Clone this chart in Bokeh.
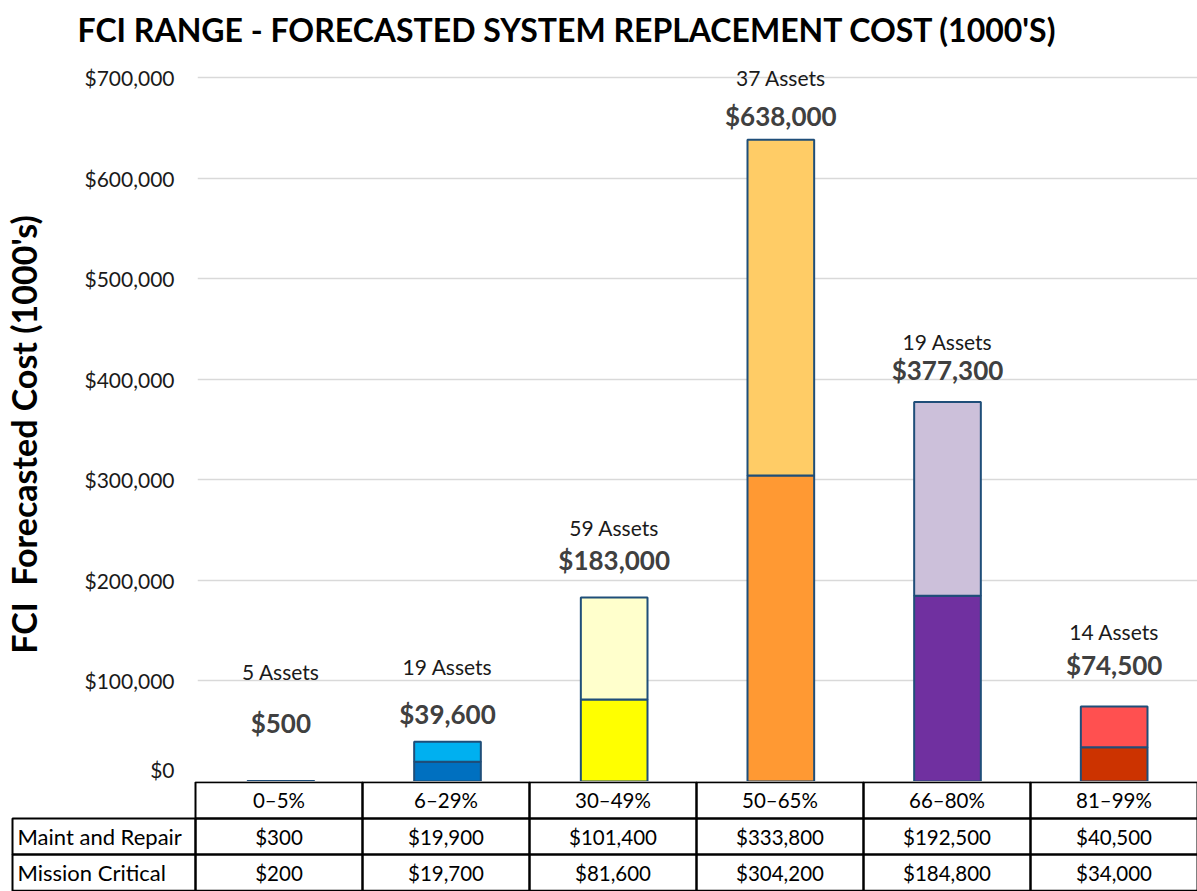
from bokeh.plotting import figure
from bokeh.models import ColumnDataSource, FactorRange, Range1d, FixedTicker, NumeralTickFormatter
from bokeh.layouts import column
from bokeh.embed import file_html
from bokeh.resources import INLINE
from bokeh.core.properties import value

# ---------------- data ----------------
categories = ["0\u20135%", "6\u201329%", "30\u201349%", "50\u201365%", "66\u201380%", "81\u201399%"]
mission_critical = [200, 19700, 81600, 304200, 184800, 34000]
maint_repair = [300, 19900, 101400, 333800, 192500, 40500]
asset_counts = [5, 19, 59, 37, 19, 14]
y_ticks = [0, 100000, 200000, 300000, 400000, 500000, 600000, 700000]
row_names = ["Maint and Repair", "Mission Critical"]

# ---------------- style ----------------
mc_colors = ["#0070C0", "#0070C0", "#FFFF00", "#FF9933", "#7030A0", "#CC3300"]
mr_colors = ["#00B0F0", "#00B0F0", "#FFFFCC", "#FFCC66", "#CCC0DA", "#FF5050"]
value_gap = [-58, -28, -37, -24, -32, -42]     # px above bar top (label layout)
assets_gap = [-109, -75, -70, -62, -61, -75]
FONT = "Lato"

totals = [a + b for a, b in zip(mission_critical, maint_repair)]
src = ColumnDataSource(dict(
    cat=categories, mc=mission_critical, total=totals,
    mc_color=mc_colors, mr_color=mr_colors,
    vlabel=["${:,}".format(t) for t in totals],
    alabel=["{} Assets".format(n) for n in asset_counts],
    vgap=value_gap, agap=assets_gap,
))

W = 1197
FRAME_LEFT = 195
TOP = 54
p = figure(x_range=FactorRange(*categories), y_range=Range1d(0, (781 - TOP) / 704 * 700000),
           width=W, height=781, output_backend="svg", toolbar_location=None,
           min_border_left=FRAME_LEFT, min_border_right=0, min_border_top=TOP, min_border_bottom=0)
p.frame_align = False
p.title.text = "FCI RANGE - FORECASTED SYSTEM REPLACEMENT COST (1000'S)"
p.title.text_font = FONT
p.title.text_font_size = "32px"
p.title.text_font_style = "bold"
p.title.align = "left"
p.title.offset = -120
p.title.standoff = 12
p.title.text_color = "#000000"

p.xaxis.visible = False
p.xgrid.visible = False
p.outline_line_color = None
p.ygrid.ticker = FixedTicker(ticks=y_ticks)
p.ygrid.grid_line_color = "#d9d9d9"
p.ygrid.grid_line_width = 1.5
p.yaxis.ticker = FixedTicker(ticks=y_ticks)
p.yaxis.formatter = NumeralTickFormatter(format="$0,0")
p.yaxis.axis_line_color = None
p.yaxis.major_tick_line_color = None
p.yaxis.minor_tick_line_color = None
p.yaxis.major_label_standoff = 17
p.yaxis.major_label_text_font = FONT
p.yaxis.major_label_text_font_size = "21px"
p.yaxis.major_label_text_color = "#1a1a1a"
p.yaxis.axis_label = "FCI\u00a0\u00a0Forecasted Cost (1000's)\u00a0\u00a0\u00a0\u00a0"
p.yaxis.axis_label_text_font = FONT
p.yaxis.axis_label_text_font_size = "34px"
p.yaxis.axis_label_text_font_style = "bold"
p.yaxis.axis_label_text_color = "#000000"
p.yaxis.axis_label_standoff = 37

p.vbar(x="cat", bottom=0, top="mc", width=0.40, source=src,
       fill_color="mc_color", line_color="#1F4E79", line_width=2)
p.vbar(x="cat", bottom="mc", top="total", width=0.40, source=src,
       fill_color="mr_color", line_color="#1F4E79", line_width=2)

p.text(x="cat", y="total", text="vlabel", y_offset="vgap", source=src,
       text_align="center", text_baseline="middle", text_font=value(FONT),
       text_font_size="26px", text_font_style="bold", text_color="#404040")
p.text(x="cat", y="total", text="alabel", y_offset="agap", source=src,
       text_align="center", text_baseline="middle", text_font=value(FONT),
       text_font_size="21px", text_color="#1a1a1a")

# ---------------- data table ----------------
n = len(categories)
unit = (W - FRAME_LEFT) / n
LEFT = -FRAME_LEFT / unit
t = figure(x_range=Range1d(LEFT, n), y_range=Range1d(-0.02, 3.02),
           width=W, height=110, output_backend="svg", toolbar_location=None,
           min_border_left=0, min_border_right=0, min_border_top=0, min_border_bottom=0)
t.frame_align = False
t.axis.visible = False
t.grid.visible = False
t.outline_line_color = None

cell_l, cell_r, cell_b, cell_t = [], [], [], []
for i in range(n):
    for r in range(3):
        cell_l.append(i); cell_r.append(i + 1); cell_b.append(r); cell_t.append(r + 1)
label_left = LEFT + 12 / unit
for r in range(2):
    cell_l.append(label_left); cell_r.append(0); cell_b.append(r); cell_t.append(r + 1)
t.quad(left=cell_l, right=cell_r, bottom=cell_b, top=cell_t,
       fill_color=None, line_color="#000000", line_width=2)

xs, ys, txt = [], [], []
for i, c in enumerate(categories):
    xs.append(i + 0.5); ys.append(2.5); txt.append(c)
    xs.append(i + 0.5); ys.append(1.5); txt.append("${:,}".format(maint_repair[i]))
    xs.append(i + 0.5); ys.append(0.5); txt.append("${:,}".format(mission_critical[i]))
t.text(x=xs, y=ys, text=txt, text_align="center", text_baseline="middle",
       text_font=value(FONT), text_font_size="20.5px", text_color="#000000")
t.text(x=[label_left, label_left], y=[1.5, 0.5], text=row_names, x_offset=5,
       text_align="left", text_baseline="middle",
       text_font=value(FONT), text_font_size="22px", text_color="#000000")

layout = column(p, t)
open("out.html", "w").write(file_html(layout, INLINE))
